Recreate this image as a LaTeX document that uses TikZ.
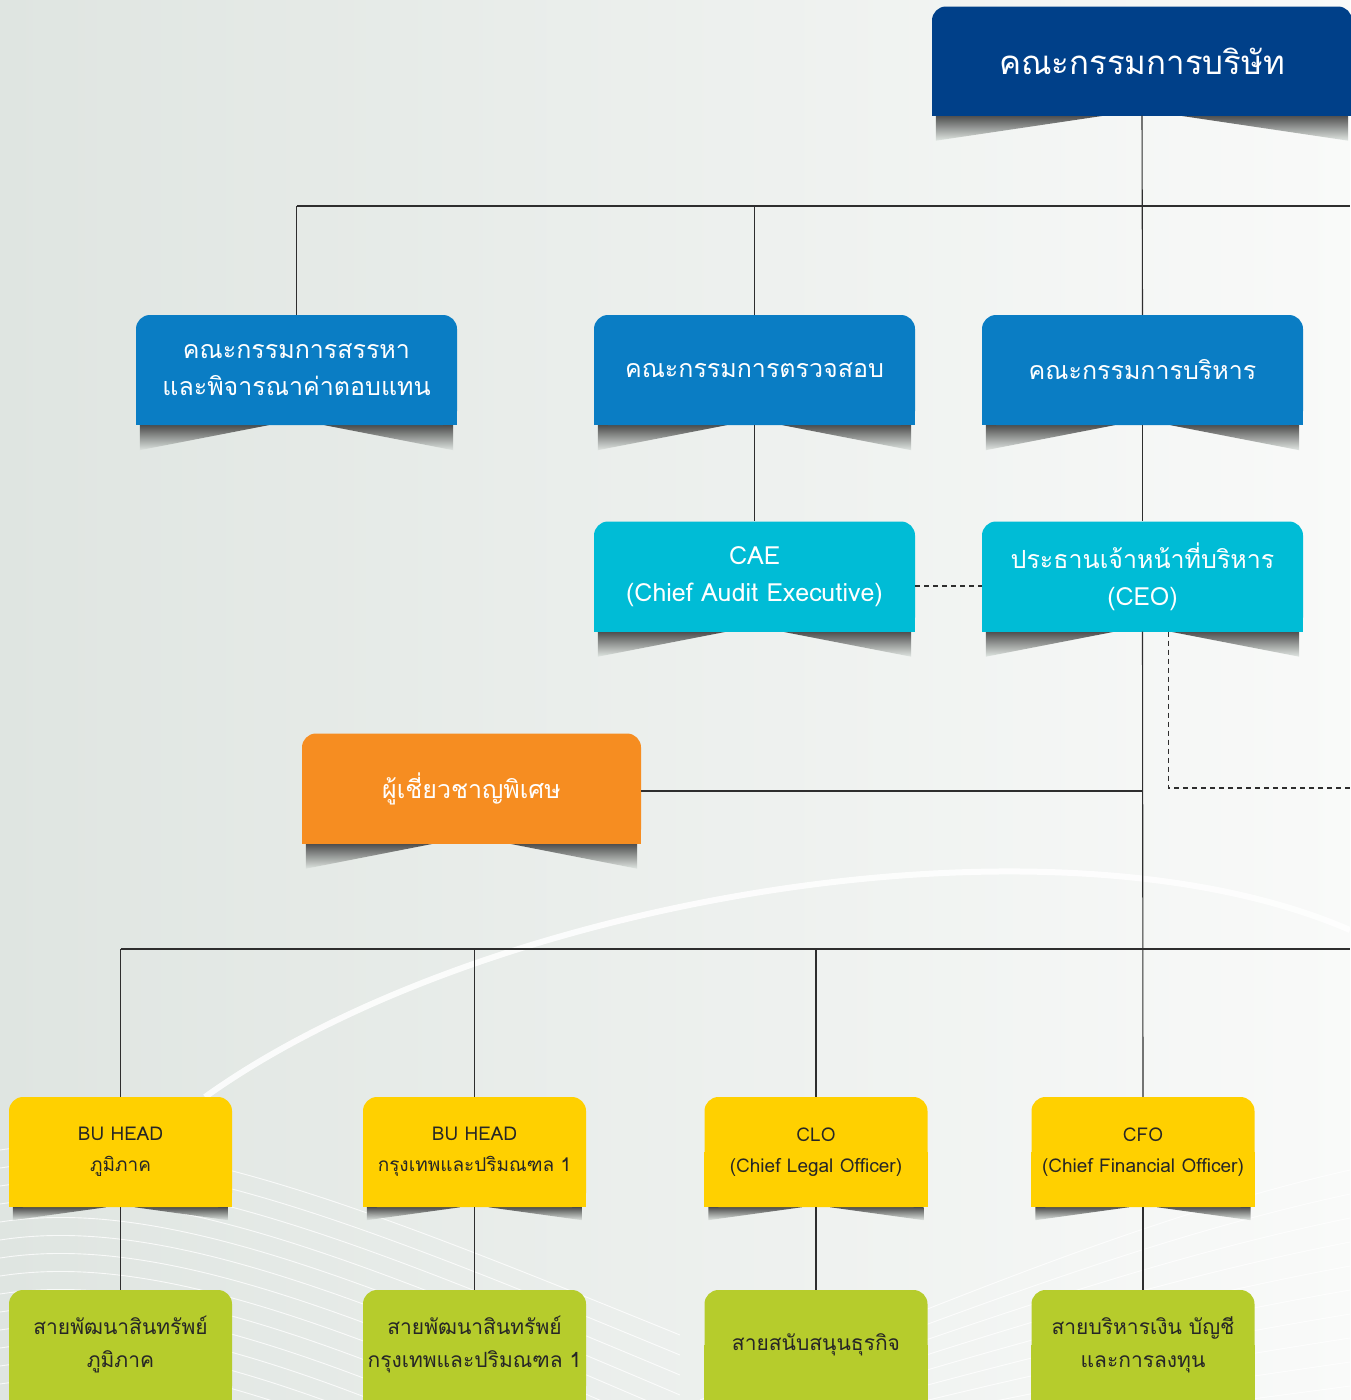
\documentclass[tikz,border=0pt]{standalone}
\usepackage{fontspec}
\setmainfont{Loma}[Script=Thai]
\usetikzlibrary{backgrounds}
\definecolor{boardblue}{HTML}{004089}
\definecolor{combblue}{HTML}{0A7DC4}
\definecolor{cyanbox}{HTML}{00BCD6}
\definecolor{orangebox}{HTML}{F68D21}
\definecolor{yellowbox}{HTML}{FFD000}
\definecolor{greenbox}{HTML}{B6CC2C}
\definecolor{linegray}{HTML}{2E2E2E}
\definecolor{bgleft}{HTML}{DFE5E1}
\definecolor{bgright}{HTML}{F9FAF9}
\pgfdeclarelayer{back}
\pgfsetlayers{back,background,main}

\begin{document}
\begin{tikzpicture}[x=1pt,y=-1pt,
    onode/.style = {shape = rectangle,
                    rounded corners = 14pt,
                    inner sep = 2pt,
                    align = center,
                    minimum height = 110pt,
                    text = white},
    wide/.style = {onode, minimum width = 321pt, font = \fontsize{25}{37}\selectfont},
    unit/.style = {onode, minimum width = 223pt, text = black!85, font = \fontsize{19}{31}\selectfont},
    base/.style = {unit, font = \fontsize{21}{33}\selectfont},
    conn/.style = {draw = linegray, line width = 1.1pt},
    dconn/.style = {conn, dash pattern = on 5pt off 4pt}]
  \useasboundingbox (0,0) rectangle (1350,1400);

  % background
  \begin{pgfonlayer}{back}
    \shade[left color = bgleft, right color = bgright] (0,0) rectangle (1350,1400);
    \foreach \i in {0,...,13}
      \draw[white, line width = .9pt, opacity = .8]
        (0,1150+18*\i) .. controls (160,1125+18*\i) and (360,1205+18*\i) .. (680,1335+20*\i);
    \foreach \i in {0,...,9}
      \draw[white, line width = .9pt, opacity = .8]
        (1350,1170+24*\i) .. controls (1150,1215+22*\i) and (950,1300+15*\i) .. (700,1400+10*\i);
    \draw[white, line width = 6pt, opacity = .85]
      (205,1097) .. controls (480,900) and (1050,800) .. (1350,930);
  \end{pgfonlayer}

  % boxes
  \node[onode, minimum width = 420pt, minimum height = 109pt, fill = boardblue,
        font = \fontsize{33}{36}\selectfont] (board) at (1142,61) {คณะกรรมการบริษัท};
  \node[wide, fill = combblue] (nom) at (296.5,370) {คณะกรรมการสรรหา\\และพิจารณาค่าตอบแทน};
  \node[wide, fill = combblue] (audit) at (754.5,370) {คณะกรรมการตรวจสอบ};
  \node[wide, fill = combblue] (exec) at (1142.5,370) {คณะกรรมการบริหาร};
  \node[wide, fill = cyanbox] (cae) at (754.5,576.5) {CAE\\(Chief Audit Executive)};
  \node[wide, fill = cyanbox] (ceo) at (1142.5,576.5) {ประธานเจ้าหน้าที่บริหาร\\(CEO)};
  \node[wide, minimum width = 339pt, fill = orangebox] (spec) at (471.5,788.5) {ผู้เชี่ยวชาญพิเศษ};

  \node[unit, fill = yellowbox] (bu1) at (120.5,1152) {BU HEAD\\ภูมิภาค};
  \node[unit, fill = yellowbox] (bu2) at (474.5,1152) {BU HEAD\\กรุงเทพและปริมณฑล 1};
  \node[unit, fill = yellowbox] (clo) at (816,1152) {CLO\\(Chief Legal Officer)};
  \node[unit, fill = yellowbox] (cfo) at (1143,1152) {CFO\\(Chief Financial Officer)};

  \node[base, fill = greenbox] (dev1) at (120.5,1345) {สายพัฒนาสินทรัพย์\\ภูมิภาค};
  \node[base, fill = greenbox] (dev2) at (474.5,1345) {สายพัฒนาสินทรัพย์\\กรุงเทพและปริมณฑล 1};
  \node[base, fill = greenbox] (supp) at (816,1345) {สายสนับสนุนธุรกิจ};
  \node[base, fill = greenbox] (fin) at (1143,1345) {สายบริหารเงิน บัญชี\\และการลงทุน};

  % square bottoms and shadows
  \begin{pgfonlayer}{background}
    \foreach \n/\c/\d/\s in {board/boardblue/25/38, nom/combblue/25/28, audit/combblue/25/28,
                             exec/combblue/25/28, cae/cyanbox/25/28, ceo/cyanbox/25/28,
                             spec/orangebox/25/38, bu1/yellowbox/13/14, bu2/yellowbox/13/14,
                             clo/yellowbox/13/14, cfo/yellowbox/13/14}{
      \shade[top color = black!80, bottom color = bgleft, opacity = .85]
        ([xshift = 4pt]\n.south west) -- ([xshift = 4pt, yshift = -\d pt]\n.south west)
        -- ([xshift = -\s pt]\n.south) -- cycle;
      \shade[top color = black!80, bottom color = bgleft, opacity = .85]
        ([xshift = -4pt]\n.south east) -- ([xshift = -4pt, yshift = -\d pt]\n.south east)
        -- ([xshift = \s pt]\n.south) -- cycle;
      \fill[\c] (\n.west) rectangle (\n.south east);
    }
    \foreach \n/\c in {dev1/greenbox, dev2/greenbox, supp/greenbox, fin/greenbox}
      \fill[\c] (\n.west) rectangle (\n.south east);
  \end{pgfonlayer}

  % connectors
  \coordinate (topbus) at (1350,206);
  \coordinate (midbus) at (1350,949);
  \coordinate (dashend) at (1350,788);
  \path[conn] (board.south) edge (exec.north);
  \path[conn] (nom.north) edge (nom.north |- topbus);
  \path[conn] (audit.north) edge (audit.north |- topbus);
  \path[conn] (nom.north |- topbus) edge (topbus);
  \path[conn] (audit) edge (cae);
  \path[conn] (exec) edge (ceo);
  \path[conn] (ceo.south) edge (cfo.north);
  \path[conn] (spec.east |- 0,791) edge (ceo.south |- 0,791);
  \path[conn] (bu1.north) edge (bu1.north |- midbus);
  \path[conn] (bu2.north) edge (bu2.north |- midbus);
  \path[conn] (clo.north) edge (clo.north |- midbus);
  \path[conn] (bu1.north |- midbus) edge (midbus);
  \foreach \a/\b in {bu1/dev1, bu2/dev2, clo/supp, cfo/fin}
    \path[conn] (\a) edge (\b);
  \path[dconn] (cae.east |- 0,586) edge (ceo.west |- 0,586);
  \draw[dconn] ([xshift = 26pt]ceo.south) |- (dashend);
\end{tikzpicture}
\end{document}
